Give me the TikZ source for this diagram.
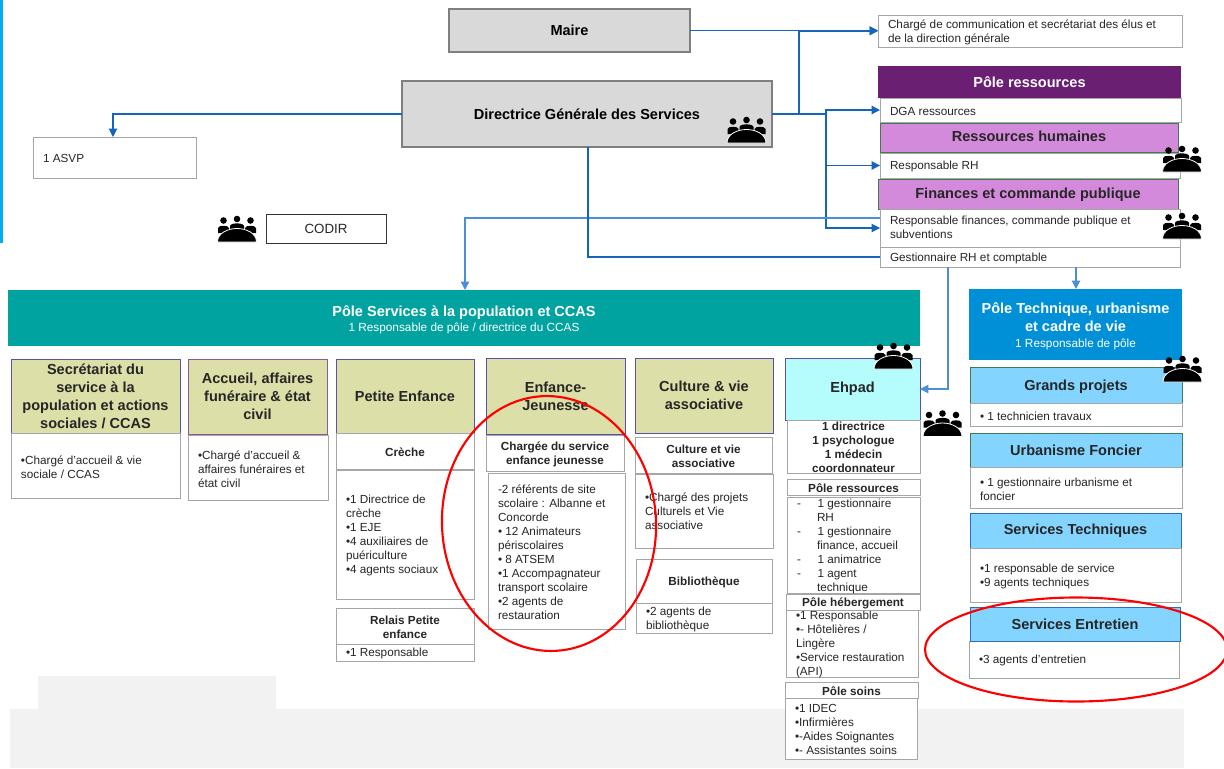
\documentclass[tikz,border=0pt]{standalone}
\usepackage{fontspec}
\setmainfont{Liberation Sans}
\usetikzlibrary{arrows.meta}
\definecolor{bleu}{HTML}{1565C0}
\definecolor{bleuclair}{HTML}{4A8FD8}
\definecolor{gfill}{HTML}{D9D9D9}
\definecolor{gline}{HTML}{7F7F7F}
\definecolor{wline}{HTML}{A6A6A6}
\definecolor{olive}{HTML}{DDDFA8}
\definecolor{mauve}{HTML}{D48ADB}
\definecolor{violet}{HTML}{6A1F73}
\definecolor{sarcelle}{HTML}{00A3A0}
\definecolor{tech}{HTML}{0090D8}
\definecolor{ciel}{HTML}{83D5FF}
\definecolor{cyanp}{HTML}{B5FDFD}
\definecolor{pale}{HTML}{F2F2F2}
\definecolor{txt}{HTML}{262626}
\definecolor{bordp}{HTML}{5B4FA8}
\definecolor{bordm}{HTML}{8A5A96}
\definecolor{bordb}{HTML}{2F6DB5}
\definecolor{bordv}{HTML}{3F7A50}
\definecolor{barre}{HTML}{00AEEF}
\newlength{\bxw}
\newsavebox{\bxb}
\newcommand{\bxdrop}{-2.5pt}
\newcommand{\ftt}{\fontsize{10.9}{13.5}\selectfont\bfseries\gdef\bxdrop{-2.5pt}}
\newcommand{\fmm}{\fontsize{10.9}{13}\selectfont\bfseries\gdef\bxdrop{-2.5pt}}
\newcommand{\fbb}{\fontsize{8.8}{10.5}\selectfont\color{txt}\gdef\bxdrop{-3.5pt}}
\newcommand{\fhh}{\fontsize{8.8}{10.5}\selectfont\bfseries\color{txt}\gdef\bxdrop{-3.5pt}}
\newcommand{\fss}[1]{\fontsize{8.85}{#1}\selectfont\gdef\bxdrop{-4pt}}
\newcommand{\bxtext}[1]{\sbox{\bxb}{\parbox[c]{\bxw}{#1\par}}\raisebox{\bxdrop}[0pt][0pt]{\usebox{\bxb}}}
% name x0 y0 x1 y1 style pad align-and-font text
\newcommand{\bx}[9]{%
  \pgfmathsetlength{\bxw}{(#4-#2-2*#7)*0.75pt}%
  \node[boite,#6,minimum width={(#4-#2)*0.75pt},minimum height={(#5-#3)*0.75pt}] (#1)
    at ({(#2+#4)/2},{(#3+#5)/2})
    {\bxtext{#8 #9}};}
\tikzset{
  boite/.style={rectangle,inner sep=0pt,outer sep=0pt},
  blanc/.style={draw=wline,fill=white,line width=0.75pt},
  gris/.style={draw=gline,fill=gfill,line width=0.9pt},
  oliv/.style={draw=#1,fill=olive,line width=0.7pt},
  oliv/.default={bordp},
  mauv/.style={draw=bordv,fill=mauve,line width=0.6pt},
  cielb/.style={draw=#1,fill=ciel,line width=0.7pt},
  lien/.style={draw=bleu,line width=0.8pt},
  lienc/.style={draw=bleuclair,line width=0.9pt},
  fleche/.style={-{Triangle[length=6.2pt,width=6.2pt]}},
  cercle/.style={draw=red,line width=1.6pt},
  meet/.pic={
    \fill[black] (-13.5,4.5) circle [radius=3.3] (0,3) circle [radius=3.3] (13.5,4.5) circle [radius=3.3];
    \fill[black] (-19,17) -- (-19,12) .. controls (-19,9) and (-8,9) .. (-8,12) -- (-8,17) -- cycle;
    \fill[black] (19,17) -- (19,12) .. controls (19,9) and (8,9) .. (8,12) -- (8,17) -- cycle;
    \fill[black] (-7,14) -- (-7,10) .. controls (-7,6.5) and (7,6.5) .. (7,10) -- (7,14) -- cycle;
    \filldraw[black,draw=white,line width=0.6pt] (-19.5,26) .. controls (-19.5,17) and (-9,12.5) .. (0,12.5) .. controls (9,12.5) and (19.5,17) .. (19.5,26) -- cycle;
  }
}
\begin{document}
\begin{tikzpicture}[x=0.75pt,y=-0.75pt]
\useasboundingbox (0,0) rectangle (1224,768);
\fill[white] (0,0) rectangle (1224,768);
\fill[barre] (0,0) rectangle (3,243);
\fill[pale] (10,709) rectangle (1184,768);
\fill[pale] (38,676) rectangle (276,709);
% top
\bx{maire}{449}{9}{690}{52}{gris}{0}{\centering\fmm}{Maire}
\bx{dgs}{402}{81}{772}{147}{gris}{0}{\centering\fmm}{Directrice Générale des Services}
\bx{asvp}{33}{137}{196}{178}{blanc}{10}{\raggedright\fbb}{1 ASVP}
\bx{codir}{266}{214}{386}{243}{draw=black!80,fill=white,line width=0.75pt}{0}{\centering\fontsize{10}{11}\selectfont\color{txt}\gdef\bxdrop{-3pt}}{CODIR}
\bx{charge}{878}{15}{1182}{47}{blanc}{10}{\raggedright\fbb}{Chargé de communication et secrétariat des élus et\\de la direction générale}
% ressources
\bx{poleres}{878}{66}{1181}{98}{fill=violet}{0}{\centering\ftt\color{white}}{Pôle ressources}
\bx{dga}{880}{98}{1181}{122}{blanc}{10}{\raggedright\fbb}{DGA ressources}
\bx{rh}{880}{123}{1178}{152}{mauv}{0}{\centering\ftt\color{txt}\gdef\bxdrop{-1.8pt}}{Ressources humaines}
\bx{resprh}{880}{153}{1180}{178}{blanc}{10}{\raggedright\fbb}{Responsable RH}
\bx{fin}{878}{179}{1178}{209}{mauv}{0}{\centering\ftt\color{txt}\gdef\bxdrop{-3.2pt}}{Finances et commande publique}
\bx{respfin}{880}{209}{1180}{247}{blanc}{10}{\raggedright\fbb\gdef\bxdrop{-2pt}}{Responsable finances, commande publique et\\subventions}
\bx{gest}{880}{247}{1180}{267}{blanc}{10}{\raggedright\fbb}{Gestionnaire RH et comptable}
% pole services
\bx{polesrv}{8}{290}{920}{346}{fill=sarcelle}{0}{\centering\color{white}}{{\ftt Pôle Services à la population et CCAS\par}{\fss{11} 1 Responsable de pôle / directrice du CCAS\par}}
% col 1
\bx{sechd}{11}{359}{180}{433}{oliv}{0}{\centering\ftt\color{txt}}{Secrétariat du\\service à la\\population et actions\\sociales / CCAS}
\bx{secbd}{11}{433}{180}{498}{blanc}{10}{\raggedright\fbb}{•Chargé d’accueil \& vie\\sociale / CCAS}
% col 2
\bx{acchd}{188}{359}{327}{434}{oliv={bordm}}{0}{\centering\ftt\color{txt}}{Accueil, affaires\\funéraire \& état\\civil}
\bx{accbd}{188}{435}{328}{500}{blanc}{10}{\raggedright\fbb}{•Chargé d’accueil \&\\affaires funéraires et\\état civil}
% col 3
\bx{pehd}{336}{359}{474}{433}{oliv}{0}{\centering\ftt\color{txt}}{Petite Enfance}
\bx{cre}{336}{433}{474}{469}{blanc}{0}{\centering\fhh}{Crèche}
\bx{crebd}{336}{470}{474}{599}{blanc}{10}{\raggedright\fbb}{•1 Directrice de\\crèche\\•1 EJE\\•4 auxiliaires de\\puériculture\\•4 agents sociaux}
\bx{rel}{336}{608}{474}{644}{blanc}{0}{\centering\fhh}{Relais Petite\\enfance}
\bx{relbd}{336}{644}{474}{661}{blanc}{10}{\raggedright\fbb}{•1 Responsable}
% col 4
\bx{ejhd}{486}{358}{625}{434}{oliv}{0}{\centering\ftt\color{txt}}{Enfance-\\Jeunesse}
\bx{ejch}{486}{435}{624}{471}{blanc}{0}{\centering\fhh}{Chargée du service\\enfance jeunesse}
\bx{ejbd}{488}{473}{625}{629}{blanc}{10}{\raggedright\fbb}{-2 référents de site\\scolaire : Albanne et\\Concorde\\• 12 Animateurs\\périscolaires\\• 8 ATSEM\\•1 Accompagnateur\\transport scolaire\\•2 agents de\\restauration}
% col 5
\bx{cuhd}{635}{358}{773}{433}{oliv}{0}{\centering\ftt\color{txt}}{Culture \& vie\\associative}
\bx{cuch}{635}{437}{772}{473}{blanc}{0}{\centering\fhh}{Culture et vie\\associative}
\bx{cubd}{635}{474}{773}{548}{blanc}{10}{\raggedright\fbb\gdef\bxdrop{-3pt}}{•Chargé des projets\\Culturels et Vie\\associative}
\bx{bib}{636}{559}{772}{603}{blanc}{0}{\centering\fhh}{Bibliothèque}
\bx{bibbd}{636}{603}{772}{633}{blanc}{10}{\raggedright\fbb}{•2 agents de\\bibliothèque}
% col 6
\bx{ehhd}{785}{358}{920}{420}{draw=bordp,fill=cyanp,line width=0.7pt}{0}{\centering\ftt\color{txt}}{Ehpad}
\bx{ehdir}{787}{420}{920}{473}{blanc}{0}{\centering\fhh\gdef\bxdrop{-2.8pt}}{1 directrice\\1 psychologue\\1 médecin\\coordonnateur}
\bx{ehres}{787}{479}{920}{495}{blanc}{0}{\centering\fhh}{Pôle ressources}
\bx{ehresbd}{787}{497}{920}{593}{blanc}{10}{\raggedright\fbb}{-\hspace{12.5pt}1 gestionnaire\\\hspace*{15pt}RH\\-\hspace{12.5pt}1 gestionnaire\\\hspace*{15pt}finance, accueil\\-\hspace{12.5pt}1 animatrice\\-\hspace{12.5pt}1 agent\\\hspace*{15pt}technique}
\bx{ehhbbd}{786}{610}{918}{677}{blanc}{10}{\raggedright\fbb}{•1 Responsable\\•- Hôtelières /\\Lingère\\•Service restauration\\(API)}
\bx{ehhb}{786}{594}{920}{610}{blanc}{0}{\centering\fhh}{Pôle hébergement}
\bx{ehso}{785}{682}{918}{698}{blanc}{0}{\centering\fhh}{Pôle soins}
\bx{ehsobd}{785}{698}{917}{759}{blanc}{10}{\raggedright\fbb}{•1 IDEC\\•Infirmières\\•-Aides Soignantes\\•- Assistantes soins}
% pole tech
\bx{poletech}{969}{289}{1182}{360}{fill=tech}{0}{\centering\color{white}}{{\ftt Pôle Technique, urbanisme\\et cadre de vie\par}{\fss{12} 1 Responsable de pôle\par}}
\bx{gp}{970}{367}{1182}{403}{cielb={bordv}}{0}{\centering\ftt\color{txt}\gdef\bxdrop{-3.8pt}}{Grands projets}
\bx{gpbd}{970}{403}{1182}{426}{blanc}{10}{\raggedright\fbb}{• 1 technicien travaux}
\bx{urb}{970}{433}{1182}{467}{cielb={bordv}}{0}{\centering\ftt\color{txt}}{Urbanisme Foncier}
\bx{urbbd}{970}{467}{1182}{508}{blanc}{10}{\raggedright\fbb}{• 1 gestionnaire urbanisme et\\foncier}
\bx{st}{970}{513}{1181}{548}{cielb={bordb}}{0}{\centering\ftt\color{txt}}{Services Techniques}
\bx{stbd}{970}{548}{1181}{602}{blanc}{10}{\raggedright\fbb}{•1 responsable de service\\•9 agents techniques}
\bx{sebd}{969}{641}{1179}{678}{blanc}{10}{\raggedright\fbb}{•3 agents d’entretien}
\bx{se}{970}{607}{1180}{641}{cielb={bordb}}{0}{\centering\ftt\color{txt}}{Services Entretien}
% connectors
\draw[lien,fleche] (maire.east) -- (maire.east -| charge.west);
\draw[lien,fleche,line width=1pt] (dgs.east) -| (799,31) -- (charge.west |- 0,31);
\draw[lien,fleche] (dgs.west) -| (asvp.north -| 113,0);
\draw[lien,fleche,line width=1pt] (dgs.east) -- (826,114) |- (dga.west);
\draw[lien,fleche] (826,114) |- (resprh.west);
\draw[lien,fleche] (826,114) |- (respfin.west);
\draw[lienc,fleche] ([yshift=7.5pt]respfin.west) -| (polesrv.north -| 465,0);
\draw[lien] (dgs.south -| 588,0) |- (gest.west);
\draw[lienc,fleche] (gest.south -| 948,0) |- (ehhd.east);
\draw[lienc,fleche] (gest.south -| 1076,0) -- (poletech.north -| 1076,0);
% icons
\pic (i1) at (746.5,117) {meet};
\pic (i2) at (1182,146) {meet};
\pic (i3) at (1182,213) {meet};
\pic (i4) at (237,216) {meet};
\pic (i5) at (893.5,343) {meet};
\pic (i6) at (942.5,410.5) {meet};
\pic (i7) at (1182.5,356) {meet};
% red ellipses
\draw[cercle,rotate around={3:(549,523.5)}] (549,523.5) ellipse [x radius=107,y radius=127.5];
\draw[cercle] (1076,649.5) ellipse [x radius=151,y radius=52];
\end{tikzpicture}
\end{document}
